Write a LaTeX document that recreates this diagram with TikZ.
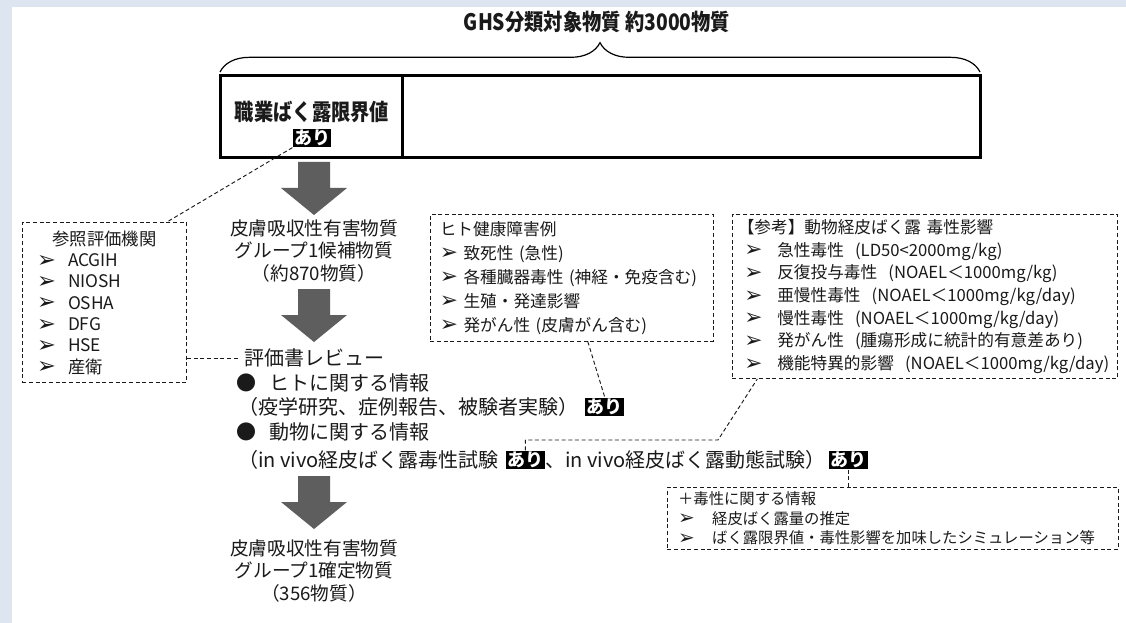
\documentclass[tikz,border=0pt]{standalone}
\usepackage{fontspec}
\setmainfont{Noto Sans CJK JP}
\newfontfamily\symfont{DejaVu Sans}
\newfontfamily\narrowfont[FakeStretch=0.85]{Noto Sans CJK JP}
\usetikzlibrary{positioning,decorations.pathreplacing}
\definecolor{bgblue}{HTML}{DCE5F0}
\definecolor{arrowgray}{HTML}{5E5E5E}
\definecolor{ink}{HTML}{1A1A1A}
\newcommand{\arw}{\raisebox{-0.5pt}{\scalebox{1.3}{\symfont\char"27A2}}}

\begin{document}
\begin{tikzpicture}[
        x=0.75pt, y=-0.75pt,
        cell/.style={draw, line width=2.2pt, inner sep=0pt, minimum height=61pt},
        narrow/.style={text=ink, inner sep=0pt, font=\narrowfont\bfseries\fontsize{17pt}{20pt}\selectfont},
        flow/.style={text=ink, align=center, inner sep=0pt, font=\fontsize{14pt}{17pt}\selectfont},
        review/.style={text=ink, anchor=west, inner sep=0pt, font=\fontsize{15pt}{18pt}\selectfont},
        ari/.style={fill=black, text=white, inner sep=1pt, font=\bfseries\fontsize{13.5pt}{13.5pt}\selectfont},
        dbox/.style={draw=ink, densely dashed, line width=0.7pt, anchor=north west, align=left, text=ink},
        conn/.style={draw=ink, densely dashed, line width=0.7pt}]

      \useasboundingbox (0,0) rectangle (1126,623);
      \fill[bgblue] (0,0) rectangle (1126,623);
      \fill[white] (12,7) rectangle (1126,623);

      \node[narrow] (ghs) at (597,22) {GHS分類対象物質 約3000物質};
      \draw[line width=0.9pt, decorate, decoration={brace, amplitude=22pt}]
        (220,72) -- (980,72);

      \node[cell, minimum width=137pt] (oel) at (311.5,116.5) {};
      \node[cell, minimum width=433pt] (rest) at (691.5,116.5) {};
      \node[narrow] (oeltxt) at (312,112) {職業ばく露限界値};
      \node[ari] (ari1) at (312,138) {あり};

      \foreach \t in {162,289,476}
        \fill[arrowgray] (298,\t) -- (330,\t) -- (330,\t+26) -- (347,\t+26)
          -- (314,\t+53) -- (281,\t+26) -- (298,\t+26) -- cycle;

      \node[flow] (cand) at (314,251) {皮膚吸収性有害物質\\グループ1候補物質\\（約870物質）};
      \node[flow] (conf) at (314,571) {皮膚吸収性有害物質\\グループ1確定物質\\（356物質）};

      \node[review] (rev) at (244,358) {評価書レビュー};
      \node[review] (hum) at (236,383) {●\hspace{10pt}ヒトに関する情報};
      \node[review] (humsrc) at (238,407) {（疫学研究、症例報告、被験者実験）};
      \node[ari, right=5pt of humsrc] (ari2) {あり};
      \node[review] (ani) at (236,432) {●\hspace{10pt}動物に関する情報};
      \node[review] (anisrc1) at (238,460) {（in vivo経皮ばく露毒性試験};
      \node[ari, right=5pt of anisrc1] (ari3) {あり};
      \node[review, right=0pt of ari3] (anisrc2) {、in vivo経皮ばく露動態試験）};
      \node[ari, right=2pt of anisrc2] (ari4) {あり};

      \node[dbox, minimum width=123pt, minimum height=120pt, inner xsep=11pt,
        text width=101pt, font=\fontsize{13pt}{16pt}\selectfont] (refs) at (22,222)
        {\makebox[101pt]{参照評価機関}\\
         \arw\hspace{9pt}ACGIH\\ \arw\hspace{9pt}NIOSH\\ \arw\hspace{9pt}OSHA\\
         \arw\hspace{9pt}DFG\\ \arw\hspace{9pt}HSE\\ \arw\hspace{9pt}産衛};

      \node[dbox, minimum width=212pt, minimum height=95pt, inner xsep=7pt,
        text width=198pt, font=\fontsize{12.5pt}{18pt}\selectfont] (harm) at (430,214)
        {ヒト健康障害例\\
         \arw\ 致死性 (急性)\\
         \arw\ 各種臓器毒性 (神経・免疫含む)\\
         \arw\ 生殖・発達影響\\
         \arw\ 発がん性 (皮膚がん含む)};

      \node[dbox, minimum width=289pt, minimum height=123pt, inner xsep=4pt,
        text width=281pt, font=\fontsize{12.5pt}{17pt}\selectfont] (anim) at (732,214)
        {【参考】動物経皮ばく露 毒性影響\\
         \hspace{5pt}\arw\hspace{11pt}急性毒性\ \ (LD50<2000mg/kg)\\
         \hspace{5pt}\arw\hspace{11pt}反復投与毒性\ \ (NOAEL＜1000mg/kg)\\
         \hspace{5pt}\arw\hspace{11pt}亜慢性毒性\ \ (NOAEL＜1000mg/kg/day)\\
         \hspace{5pt}\arw\hspace{11pt}慢性毒性\ \ (NOAEL＜1000mg/kg/day)\\
         \hspace{5pt}\arw\hspace{11pt}発がん性\ \ (腫瘍形成に統計的有意差あり)\\
         \hspace{5pt}\arw\hspace{11pt}機能特異的影響\ \ (NOAEL＜1000mg/kg/day)};

      \node[dbox, minimum width=338pt, minimum height=44pt, inner xsep=8pt,
        text width=322pt, font=\fontsize{11.5pt}{14.5pt}\selectfont] (plus) at (667,487)
        {＋毒性に関する情報\\
         \arw\hspace{13pt}経皮ばく露量の推定\\
         \arw\hspace{13pt}ばく露限界値・毒性影響を加味したシミュレーション等};

      \coordinate (bend) at (718,440);

      \draw[conn] (ari1.south west) -- ([xshift=-15pt]refs.north east);
      \draw[conn] (refs.east |- rev.west) -- ([xshift=-3pt]rev.west);
      \draw[conn] ([xshift=12pt]harm.south) -- (ari2.north);
      \draw[conn] (ari3.north) |- (bend) -- ([xshift=19pt]anim.south west);
      \draw[conn] (ari4.south) -- (ari4.south |- plus.north);

    \end{tikzpicture}
\end{document}
